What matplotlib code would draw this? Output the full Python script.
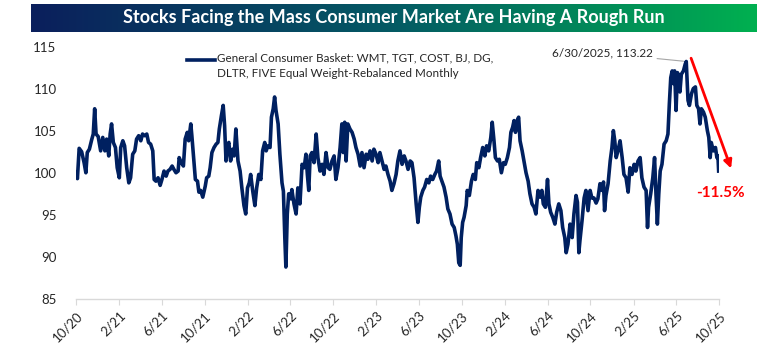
import numpy as np
import pandas as pd
import matplotlib
matplotlib.use("Agg")
import matplotlib.pyplot as plt
import matplotlib.dates as mdates
from matplotlib.lines import Line2D
from matplotlib.colors import LinearSegmentedColormap

plt.rcParams['font.family'] = ['Lato', 'DejaVu Sans']

start = "2020-10-01"

# days since start
day = [0, 4, 9, 16, 23, 28, 32, 38, 45, 49, 53, 57, 63, 70, 76, 82, 87, 93, 97, 101,
       106, 112, 117, 123, 127, 133, 138, 144, 150, 155, 161, 167, 172, 178, 184, 189, 195, 201, 206, 212,
       218, 222, 227, 233, 239, 244, 250, 256, 261, 267, 273, 278, 284, 290, 293, 299, 305, 310, 316, 320,
       326, 329, 335, 339, 345, 349, 354, 360,
       367, 371, 377, 381, 386, 392, 398, 403, 407, 413, 418, 422, 426, 430, 434, 439, 445, 449, 454, 460,
       466, 471, 477, 482, 487, 492, 496, 502, 508, 513, 519, 525, 530, 536, 540, 545, 551, 555, 560, 564,
       568, 574, 579, 585, 589, 593, 596, 600, 604, 610, 613, 619, 625, 630, 636, 642, 648, 653, 657, 661,
       665, 670, 676, 682, 687, 693, 699, 704, 710, 716, 721, 727, 733,
       738, 744, 750, 755, 759, 763, 767, 772, 778, 784, 790, 795, 801, 807, 812, 818, 824, 829, 835, 841,
       846, 852, 858, 863, 869, 875, 880, 886, 892, 897, 903, 909, 914, 920, 926, 932, 937, 943, 949, 954,
       960, 966, 971, 975, 979, 985, 990, 996, 1002, 1007, 1013, 1019, 1024, 1030, 1034, 1039, 1045, 1051, 1056, 1062,
       1068, 1074, 1079, 1083, 1087, 1091, 1094, 1098,
       1102, 1108, 1111, 1117, 1123, 1128, 1134, 1138, 1144, 1149, 1155, 1161, 1166, 1172, 1178, 1182, 1187, 1191, 1197, 1202,
       1208, 1214, 1219, 1225, 1231, 1235, 1240, 1244, 1248, 1253, 1257, 1261, 1267, 1272, 1278, 1284, 1289, 1295, 1301, 1306,
       1312, 1318, 1323, 1327, 1333, 1339, 1343, 1348, 1354, 1360, 1365, 1371, 1377, 1382, 1388, 1392, 1397, 1403, 1409, 1414,
       1420, 1424, 1428, 1431, 1437, 1443, 1448, 1454,
       1460, 1465, 1471, 1477, 1482, 1488, 1494, 1498, 1501, 1505, 1511, 1517, 1522, 1526, 1530, 1534, 1539, 1545, 1551, 1556,
       1562, 1568, 1573, 1579, 1585, 1590, 1596, 1602, 1607, 1613, 1619, 1623, 1626, 1632, 1638, 1643, 1647, 1651, 1655, 1659,
       1664, 1670, 1676, 1681, 1685, 1689, 1693, 1696, 1700, 1704, 1708, 1712, 1715, 1719, 1725, 1730, 1733, 1738, 1742, 1748,
       1753, 1759, 1763, 1768, 1772, 1776, 1782, 1787, 1793, 1797, 1801, 1804, 1810, 1816, 1820, 1823, 1825]

basket = [100.0, 99.3, 102.9, 102.5, 101.2, 100.0, 102.4, 102.8, 104.0, 104.6, 107.6, 104.6, 104.3, 102.6, 104.2, 102.6, 104.0, 102.0, 104.6, 105.8,
          103.6, 103.0, 100.6, 99.4, 103.0, 103.8, 103.2, 100.6, 98.8, 99.4, 102.2, 102.6, 104.0, 104.4, 103.8, 104.6, 104.4, 104.6, 103.6, 103.4,
          102.6, 99.2, 99.0, 99.4, 98.5, 99.2, 100.2, 99.6, 100.2, 100.4, 100.8, 100.4, 100.0, 100.2, 101.8, 101.2, 100.8, 104.0, 104.8, 103.8,
          105.8, 104.4, 101.2, 99.2, 99.0, 97.7, 97.9, 97.1,
          98.4, 99.4, 99.6, 100.6, 102.4, 103.0, 103.4, 103.6, 105.2, 106.8, 108.0, 105.6, 101.4, 103.2, 103.6, 101.4, 102.8, 102.0, 105.2, 101.4,
          100.2, 98.2, 96.1, 95.1, 98.2, 98.8, 99.8, 97.8, 96.1, 98.2, 99.8, 99.2, 102.6, 103.6, 102.6, 103.2, 103.0, 106.6, 107.6, 109.0,
          107.4, 105.8, 102.2, 98.8, 97.8, 92.3, 88.8, 95.1, 97.5, 96.9, 98.0, 96.3, 95.1, 98.2, 96.3, 101.0, 100.6, 102.2, 99.8, 97.9,
          102.0, 102.4, 101.2, 104.6, 101.8, 100.2, 101.0, 99.8, 102.4, 100.6, 100.4, 101.4, 102.0,
          99.2, 100.6, 103.0, 105.8, 102.4, 106.0, 101.4, 105.8, 105.2, 104.8, 104.0, 103.0, 102.2, 100.8, 102.4, 100.6, 102.2, 101.6, 102.6, 101.4,
          102.8, 102.2, 101.2, 102.4, 101.4, 100.4, 100.8, 99.8, 99.0, 97.9, 98.7, 99.8, 101.4, 102.6, 101.0, 102.0, 101.4, 100.4, 101.4, 101.2,
          99.4, 96.3, 94.1, 95.9, 97.1, 97.9, 98.3, 99.2, 98.8, 99.6, 99.2, 99.8, 100.2, 101.4, 99.6, 99.0, 98.3, 97.1, 95.7, 95.1,
          93.9, 93.5, 92.5, 91.5, 89.3, 89.0, 92.3, 94.1,
          94.7, 96.1, 97.9, 97.3, 99.0, 99.8, 99.2, 101.2, 100.6, 101.8, 103.0, 102.0, 103.2, 102.6, 104.2, 106.0, 103.8, 101.8, 101.4, 101.6,
          100.0, 101.2, 101.0, 101.8, 103.0, 104.8, 105.4, 106.2, 104.8, 106.2, 106.6, 103.8, 102.6, 101.4, 100.0, 99.0, 97.5, 96.3, 95.9, 95.1,
          97.9, 97.1, 97.9, 96.3, 95.9, 99.2, 96.3, 95.3, 94.7, 93.9, 95.3, 96.3, 95.5, 93.5, 92.3, 90.5, 91.5, 93.9, 92.3, 95.1,
          97.3, 96.5, 90.5, 91.9, 94.3, 97.0, 97.9, 95.5,
          97.9, 97.0, 97.0, 96.4, 96.9, 98.7, 97.9, 98.9, 95.5, 97.3, 98.7, 101.4, 103.0, 105.0, 103.8, 101.8, 102.6, 103.8, 101.8, 99.8,
          99.4, 97.7, 100.6, 99.8, 101.0, 100.2, 101.4, 101.8, 99.4, 98.3, 97.9, 93.5, 95.9, 97.5, 99.4, 101.8, 97.5, 93.9, 97.5, 100.2,
          101.0, 103.4, 103.8, 104.6, 108.2, 111.3, 112.1, 110.6, 112.1, 107.4, 111.9, 111.3, 109.6, 111.7, 112.1, 112.9, 113.22, 108.6, 108.0, 109.4,
          110.0, 110.2, 108.0, 107.6, 105.8, 107.6, 107.2, 106.6, 105.0, 104.2, 101.8, 103.6, 102.6, 103.0, 101.8, 102.0, 100.2]

assert len(day) == len(basket)

dates = pd.Timestamp(start) + pd.to_timedelta(day, unit="D")
s = pd.Series(basket, index=dates)

navy = "#002060"

fig = plt.figure(figsize=(7.78, 3.46), dpi=100)
ax = fig.add_axes([76 / 778, 47 / 346, 643 / 778, 252.5 / 346])

ax.plot(s.index, s.values, color=navy, lw=2.6, solid_joinstyle="round")

ax.set_ylim(85, 115)
ax.set_yticks(np.arange(85, 116, 5))
ax.set_xlim(pd.Timestamp("2020-10-01"), pd.Timestamp("2025-10-01"))
ax.xaxis.set_major_locator(mdates.MonthLocator(bymonth=[2, 6, 10]))
ax.xaxis.set_major_formatter(plt.FuncFormatter(
    lambda v, p: "{}/{}".format(mdates.num2date(v).month, mdates.num2date(v).strftime("%y"))))

for sp in ["top", "right", "left"]:
    ax.spines[sp].set_visible(False)
ax.spines["bottom"].set_color("#d9d9d9")
ax.spines["bottom"].set_linewidth(1.0)
ax.tick_params(axis="y", length=0, labelsize=9.5, colors="#262626", pad=14)
ax.tick_params(axis="x", length=4, color="#d9d9d9", labelsize=9.5, labelcolor="#262626")
for lab in ax.get_xticklabels():
    lab.set_rotation(45)
    lab.set_ha("right")
    lab.set_rotation_mode("anchor")

# legend key
ax.add_line(Line2D([0.1726, 0.2162], [0.9465, 0.9465], transform=ax.transAxes, color=navy, lw=2.6))
ax.text(0.2195, 0.975, "General Consumer Basket: WMT, TGT, COST, BJ, DG,\nDLTR, FIVE Equal Weight-Rebalanced Monthly",
        transform=ax.transAxes, fontsize=8.4, color="#262626", va="top", ha="left", linespacing=1.45)

# peak label
peak_day = s.idxmax()
peak = s.max()
ax.annotate("{:%-m/%d/%Y}, {:.2f}".format(peak_day, peak), xy=(peak_day, peak),
            xytext=(-24, 6), textcoords="offset points", ha="right", va="center",
            fontsize=8.5, color="#262626",
            arrowprops=dict(arrowstyle="-", color="#a6a6a6", lw=0.8, shrinkA=1, shrinkB=2))

# drawdown arrow
last_day = s.index[-1]
last = s.iloc[-1]
chg = (last / peak - 1) * 100
ax.annotate("", xy=(last_day + pd.Timedelta(days=38), last),
            xytext=(peak_day + pd.Timedelta(days=11), peak + 0.7),
            arrowprops=dict(arrowstyle="-|>", color="#ff0000", lw=2, mutation_scale=12),
            annotation_clip=False)
ax.text(last_day + pd.Timedelta(days=4), last - 2.6, "{:.1f}%".format(chg), color="#ff0000",
        fontsize=11, fontweight="bold", ha="center", va="center", clip_on=False)

# title banner
tax = fig.add_axes([31 / 778, 1 - 32 / 346, 726 / 778, 28 / 346])
cmap = LinearSegmentedColormap.from_list("banner", ["#0b1f5c", "#045a64", "#00b050"])
tax.imshow(np.linspace(0, 1, 256)[None, :], aspect="auto", cmap=cmap, extent=[0, 1, 0, 1])
tax.set_axis_off()
tax.text(0.5, 0.5, "Stocks Facing the Mass Consumer Market Are Having A Rough Run",
         color="white", fontsize=13, fontweight="bold", ha="center", va="center")

fig.savefig("out.png", dpi=100)
